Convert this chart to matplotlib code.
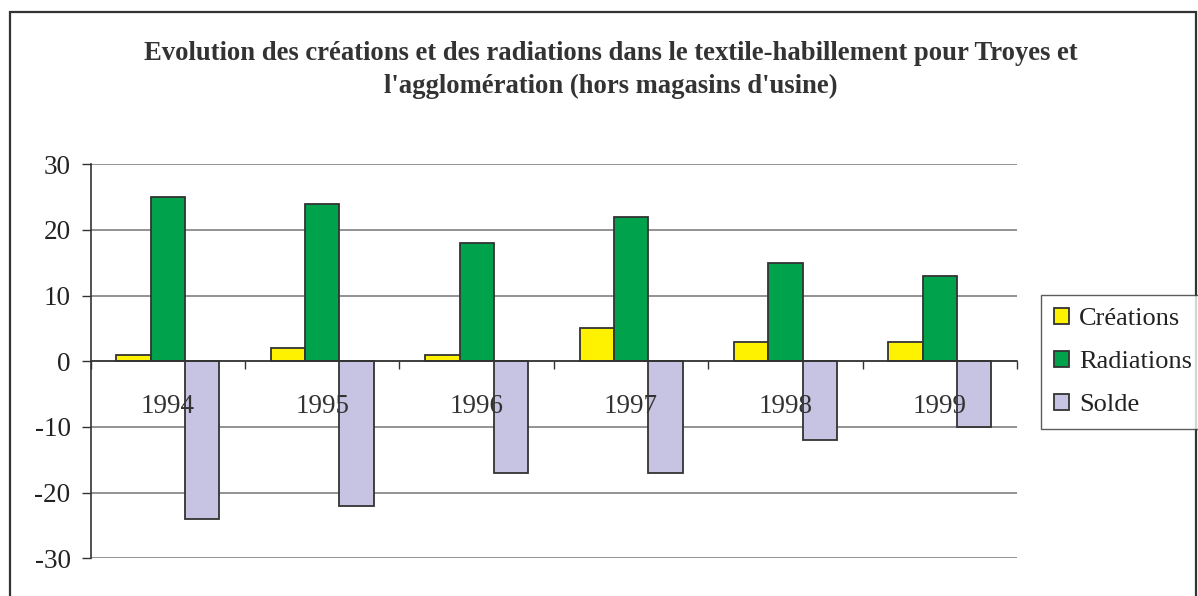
import matplotlib
matplotlib.use("Agg")
import matplotlib.pyplot as plt
import numpy as np
from matplotlib.patches import Rectangle, Patch
from matplotlib import transforms

years = ["1994", "1995", "1996", "1997", "1998", "1999"]
creations = [1, 2, 1, 5, 3, 3]
radiations = [25, 24, 18, 22, 15, 13]
solde = [-24, -22, -17, -17, -12, -10]
series_names = ["Créations", "Radiations", "Solde"]
colors = ["#FFF200", "#00A34C", "#C6C4E2"]
title = ("Evolution des créations et des radiations dans le textile-habillement pour Troyes et\n"
         "l'agglomération (hors magasins d'usine)")

W, H = 1198, 596
plt.rcParams['font.family'] = ['Liberation Serif', 'DejaVu Serif']
plt.rcParams['axes.unicode_minus'] = False
fig = plt.figure(figsize=(W / 100, H / 100), dpi=100)

# outer frame
fig.add_artist(Rectangle((10 / W, -0.05), (1196 - 10) / W, 1.05 - 12 / H,
                         transform=fig.transFigure, fill=False,
                         edgecolor="#333333", linewidth=1.6))

left, right, top, bottom = 90.7, 1017, 164.3, 558.3
ax = fig.add_axes([left / W, 1 - bottom / H, (right - left) / W, (bottom - top) / H])

x = np.arange(len(years))
bw = 1 / 4.5
data = [creations, radiations, solde]
for k, (vals, c, name) in enumerate(zip(data, colors, series_names)):
    ax.bar(x + (k - 1) * bw, vals, width=bw, color=c, edgecolor="#333333",
           linewidth=1.3, label=name, zorder=3)

ax.set_xlim(-0.5, len(years) - 0.5)
ax.set_ylim(-30, 30)
ax.set_yticks(np.arange(-30, 31, 10))
ax.yaxis.grid(True, color="#808080", linewidth=1.2, zorder=0)
ax.set_axisbelow(True)

for s in ["top", "right"]:
    ax.spines[s].set_visible(False)
ax.spines["left"].set_color("#333333")
ax.spines["left"].set_linewidth(1.2)
ax.spines["bottom"].set_position(("data", 0))
ax.spines["bottom"].set_color("#333333")
ax.spines["bottom"].set_linewidth(1.2)
ax.spines["bottom"].set_zorder(4)

ax.set_xticks(np.arange(-0.5, len(years), 1.0))
ax.set_xticklabels([])
ax.tick_params(axis="x", direction="out", length=6, width=1.0, color="#333333")
ax.tick_params(axis="y", direction="out", length=6.5, width=1.0, color="#333333",
               labelsize=19.5, pad=8, labelcolor="#222222")

off = transforms.offset_copy(ax.transData, fig=fig, x=0, y=-45 * 72 / 100, units="points")
for xi, yr in zip(x, years):
    ax.text(xi, 0, yr, transform=off, ha="center", va="center", fontsize=19.5,
            color="#333333", zorder=5)

handles = [Patch(facecolor=c, edgecolor="#333333", linewidth=1.3) for c in colors]
leg = fig.legend(handles, series_names, loc="upper left",
                 bbox_to_anchor=(1041 / W, 1 - 295 / H), bbox_transform=fig.transFigure,
                 fontsize=19, frameon=True, fancybox=False, borderaxespad=0,
                 handlelength=0.55, handleheight=0.55, handletextpad=0.4,
                 labelspacing=0.78, borderpad=0.5)
leg.get_frame().set_edgecolor("#333333")
leg.get_frame().set_linewidth(1.0)
for t in leg.get_texts():
    t.set_color("#222222")

fig.text(611 / W, 1 - 70 / H, title, ha="center", va="center", fontsize=19.2,
         fontweight="bold", color="#333333", linespacing=1.45)

fig.savefig("out.png", dpi=100)
